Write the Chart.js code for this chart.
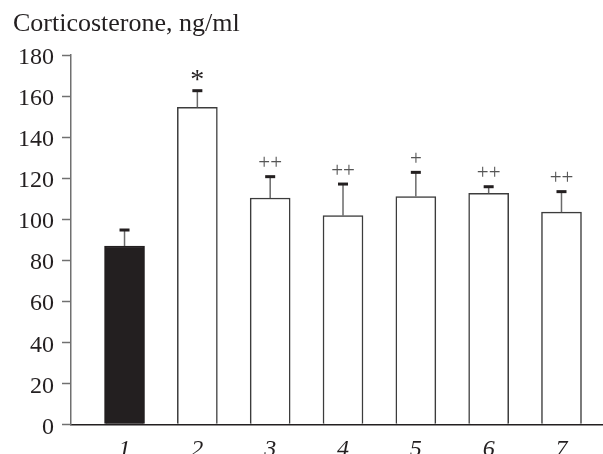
<!DOCTYPE html>
<html>
<head>
<meta charset="utf-8">
<script src="https://cdn.jsdelivr.net/npm/chart.js@4"></script>
<style>
  html, body { margin: 0; padding: 0; background: #fff; }
  #wrap { width: 603px; height: 454px; position: relative; }
</style>
</head>
<body>
<div id="wrap"><canvas id="c" width="603" height="454"></canvas></div>
<script>
// ---- data ----
const categories = ['1', '2', '3', '4', '5', '6', '7'];
const means = [86.9, 154.5, 110.3, 101.7, 111.0, 112.6, 103.4];
const sems = [7.8, 8.1, 10.4, 15.4, 11.8, 3.2, 10.0];
const sigMarks = ['', '*', '++', '++', '+', '++', '++'];
const yTicks = [0, 20, 40, 60, 80, 100, 120, 140, 160, 180];
const titleText = 'Corticosterone, ng/ml';

const SERIF = '"Liberation Serif", "Times New Roman", serif';
const INK = '#231f20';
const AXIS = '#707070';

const errorBarPlugin = {
  id: 'errorBars',
  afterDatasetsDraw(chart) {
    const ctx = chart.ctx;
    const xs = chart.scales.x, ys = chart.scales.y;
    ctx.save();
    categories.forEach((c, i) => {
      const x = xs.getPixelForValue(i + 1);
      const yTop = ys.getPixelForValue(means[i]);
      const yCap = ys.getPixelForValue(means[i] + sems[i]);
      ctx.strokeStyle = '#6a6a6a';
      ctx.lineWidth = 1.5;
      ctx.beginPath();
      ctx.moveTo(x, yTop);
      ctx.lineTo(x, yCap);
      ctx.stroke();
      ctx.fillStyle = INK;
      ctx.fillRect(x - 5, yCap - 1.5, 10, 3);
      if (sigMarks[i]) {
        const star = sigMarks[i] === '*';
        ctx.font = (star ? '28px ' : '21px ') + SERIF;
        ctx.fillStyle = star ? INK : '#555';
        ctx.textAlign = 'center';
        ctx.textBaseline = 'alphabetic';
        ctx.fillText(sigMarks[i], x, yCap - (star ? 3 : 7.4));
      }
    });
    ctx.restore();
  }
};

new Chart(document.getElementById('c'), {
  type: 'bar',
  data: {
    datasets: [{
      data: categories.map((c, i) => ({ x: i + 1, y: means[i] })),
      backgroundColor: categories.map((c, i) => i === 0 ? INK : '#ffffff'),
      borderColor: categories.map((c, i) => i === 0 ? INK : '#3c3c3c'),
      borderWidth: 1.5,
      barThickness: 40
    }]
  },
  options: {
    responsive: false,
    animation: false,
    devicePixelRatio: 1,
    layout: { padding: { left: 13, right: 0, top: 0, bottom: 0 } },
    plugins: {
      legend: { display: false },
      tooltip: { enabled: false },
      title: {
        display: true,
        text: titleText,
        align: 'start',
        color: INK,
        font: { family: SERIF, size: 26, weight: 'normal' },
        padding: { top: 8.4, bottom: 15.4 }
      }
    },
    scales: {
      x: {
        type: 'linear',
        offset: false,
        min: 0.265,
        max: 7.57,
        afterBuildTicks(scale) { scale.ticks = categories.map((c, i) => ({ value: i + 1 })); },
        afterFit(scale) { scale.height = 29.7; },
        grid: { display: false, drawTicks: false, offset: false },
        border: { display: true, color: INK, width: 1.5 },
        ticks: {
          autoSkip: false,
          maxRotation: 0,
          padding: 10.7,
          color: INK,
          font: { family: SERIF, size: 24, style: 'italic' },
          callback: (v) => categories[Math.round(v) - 1] ?? ''
        }
      },
      y: {
        min: 0,
        max: 180,
        afterBuildTicks(scale) { scale.ticks = yTicks.map(v => ({ value: v })); },
        afterFit(scale) { scale.width = 58; },
        grid: {
          display: true,
          drawOnChartArea: false,
          drawTicks: true,
          tickLength: 9,
          tickWidth: 1.5,
          tickColor: AXIS
        },
        border: { display: true, color: AXIS, width: 1.5 },
        ticks: {
          padding: 8,
          labelOffset: 3,
          color: INK,
          font: { family: SERIF, size: 24 }
        }
      }
    }
  },
  plugins: [errorBarPlugin]
});
</script>
</body>
</html>
